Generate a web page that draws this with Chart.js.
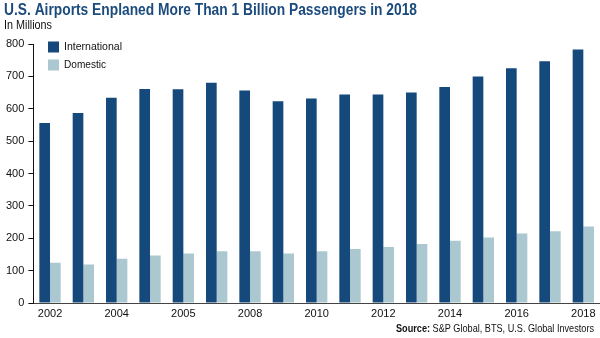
<!DOCTYPE html>
<html>
<head>
<meta charset="utf-8">
<script src="https://cdn.jsdelivr.net/npm/chart.js@4/dist/chart.umd.min.js"></script>
<style>
  html, body { margin: 0; padding: 0; background: #fff; }
  #wrap { width: 600px; height: 338px; position: relative; }
</style>
</head>
<body>
<div id="wrap"><canvas id="grafico"></canvas></div>
<script>
// años y pasajeros (millones)
var years = ['2002', '2003', '2004', '2005', '2006', '2007', '2008', '2009', '2010',
             '2011', '2012', '2013', '2014', '2015', '2016', '2017', '2018'];
var tickLabels = ['2002', '', '2004', '', '2005', '', '2008', '', '2010',
                  '', '2012', '', '2014', '', '2016', '', '2018'];
var international = [556, 587, 634, 661, 660, 680, 656, 623, 632,
                     644, 644, 650, 667, 700, 725, 747, 783];
var domestic = [124, 119, 137, 147, 153, 160, 160, 153, 160,
                167, 173, 182, 192, 202, 215, 222, 236];

var AZUL = '#15487b';
var CELESTE = '#abc7d0';
var FUENTE = "'Liberation Sans', Arial, sans-serif";

// texto comprimido en horizontal hasta el ancho pedido
function textoAjustado(ctx, partes, x, y, ancho) {
    var total = 0;
    partes.forEach(function (p) {
        ctx.font = p.font;
        total += ctx.measureText(p.text).width;
    });
    var esc = Math.min(1, ancho / total);
    ctx.save();
    ctx.translate(x, y);
    ctx.scale(esc, 1);
    var cx = 0;
    partes.forEach(function (p) {
        ctx.font = p.font;
        ctx.fillText(p.text, cx, 0);
        cx += ctx.measureText(p.text).width;
    });
    ctx.restore();
}

// titulo, subtitulo, leyenda, etiquetas del eje x y fuente
var textos = {
    id: 'textos',
    afterDraw: function (chart) {
        var ctx = chart.ctx;
        var ejeX = chart.scales.x;
        ctx.save();
        ctx.textBaseline = 'middle';
        ctx.textAlign = 'left';

        ctx.fillStyle = '#1b4b7d';
        textoAjustado(ctx, [{ text: 'U.S. Airports Enplaned More Than 1 Billion Passengers in 2018',
                              font: 'bold 16px ' + FUENTE }], 4, 11, 413);

        ctx.fillStyle = '#111';
        textoAjustado(ctx, [{ text: 'In Millions', font: '12px ' + FUENTE }], 4, 26, 48);

        // leyenda dentro del area del grafico
        chart.data.datasets.forEach(function (ds, i) {
            var y = 47 + i * 18;
            ctx.fillStyle = ds.backgroundColor;
            ctx.fillRect(48, y - 5.5, 11, 11);
            ctx.fillStyle = '#111';
            textoAjustado(ctx, [{ text: ds.label, font: '11px ' + FUENTE }], 64, y, i === 0 ? 58 : 42);
        });

        // etiquetas de años, una de cada dos categorias
        ctx.fillStyle = '#111';
        ctx.font = '11px ' + FUENTE;
        ctx.textAlign = 'center';
        tickLabels.forEach(function (t, i) {
            if (t) ctx.fillText(t, ejeX.getPixelForValue(i), chart.chartArea.bottom + 11);
        });
        ctx.textAlign = 'left';

        // fuente abajo a la derecha
        textoAjustado(ctx, [
            { text: 'Source:', font: 'bold 11px ' + FUENTE },
            { text: ' S&P Global, BTS, U.S. Global Investors', font: '11px ' + FUENTE }
        ], 396, 329, 198);
        ctx.restore();
    }
};

var ctx = document.getElementById('grafico').getContext('2d');
var grafico = new Chart(ctx, {
    type: 'bar',
    data: {
        labels: years,
        datasets: [{
            label: 'International',
            data: international,
            backgroundColor: AZUL,
            barPercentage: 1,
            categoryPercentage: 0.64
        }, {
            label: 'Domestic',
            data: domestic,
            backgroundColor: CELESTE,
            barPercentage: 1,
            categoryPercentage: 0.64
        }]
    },
    options: {
        responsive: true,
        maintainAspectRatio: false,
        animation: false,
        layout: { padding: { top: 44, left: 2, right: 0, bottom: 27 } },
        plugins: {
            legend: { display: false },
            tooltip: { enabled: false }
        },
        scales: {
            x: {
                grid: { display: false },
                border: { color: '#444', width: 1 },
                ticks: { display: false }
            },
            y: {
                min: 0,
                max: 800,
                grid: { drawOnChartArea: false, drawTicks: true, tickLength: 5, color: '#111' },
                border: { color: '#111', width: 1 },
                ticks: {
                    stepSize: 100,
                    padding: 4,
                    color: '#111',
                    font: { family: FUENTE, size: 11 }
                }
            }
        }
    },
    plugins: [textos]
});
</script>
</body>
</html>
